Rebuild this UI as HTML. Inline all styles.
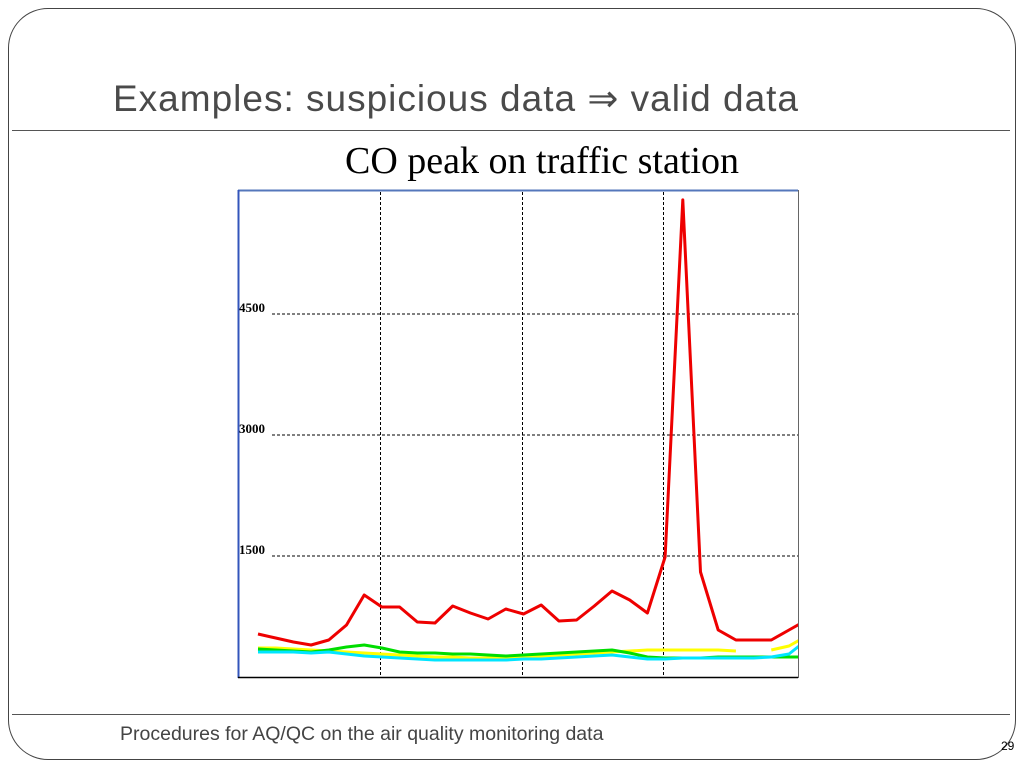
<!DOCTYPE html>
<html><head><meta charset="utf-8"><style>
body{margin:0;width:1024px;height:768px;background:#fff;overflow:hidden;position:relative;font-family:"Liberation Sans",sans-serif}
.abs{position:absolute}
</style></head><body>
<div class="abs" style="left:8px;top:8px;width:1006px;height:750px;border:1px solid #444;border-radius:40px"></div>
<div class="abs" style="left:113px;top:77px;font-size:37px;color:#4a4a4a;letter-spacing:1px;white-space:nowrap">Examples: suspicious data ⇒ valid data</div>
<div class="abs" style="left:12px;top:130px;width:998px;height:1px;background:#555"></div>
<div class="abs" style="left:0;width:1084px;text-align:center;top:139px;font-family:'Liberation Serif',serif;font-size:38px;color:#000;white-space:nowrap">CO peak on traffic station</div>
<div class="abs" style="left:12px;top:714px;width:998px;height:1px;background:#555"></div>
<div class="abs" style="left:120px;top:723px;font-size:19.5px;color:#444;white-space:nowrap">Procedures for AQ/QC on the air quality monitoring data</div>
<div class="abs" style="left:1001px;top:739px;font-size:12px;color:#000">29</div>
<svg class="abs" style="left:0;top:0" width="1024" height="768">
<defs><clipPath id="pc"><rect x="238" y="190" width="560" height="488"/></clipPath></defs>
<g id="grid"></g>
<g id="series" clip-path="url(#pc)"></g>
<line x1="238" y1="190.5" x2="798" y2="190.5" stroke="#5577bb" stroke-width="2"/>
<line x1="238.5" y1="190" x2="238.5" y2="678" stroke="#3355bb" stroke-width="2"/>
<line x1="238" y1="677.5" x2="798" y2="677.5" stroke="#000" stroke-width="1.5"/>
<line x1="798.5" y1="190" x2="798.5" y2="678" stroke="#666" stroke-width="1"/>
</svg>
<script>
const yTicks=[1500,3000,4500];
const xGrid=[6.9,14.9,22.9];
const red=[533,484,434,397,459,645,1017,868,868,682,670,880,794,719,843,781,893,694,707,880,1066,955,794,1488,5915,1302,583,459,459,459,583,707];
const yellow=[360,360,347,335,322,310,298,285,273,260,248,248,236,236,236,248,260,273,285,298,310,322,335,335,335,335,335,322,null,335,384,508];
const green=[347,335,322,310,335,372,397,360,310,298,298,285,285,273,260,273,285,298,310,322,335,298,248,236,236,236,248,248,248,248,248,248];
const cyan=[310,310,310,298,310,285,260,248,236,223,211,211,211,211,211,223,223,236,248,260,273,248,223,223,236,236,236,236,236,248,285,459];
const NS='http://www.w3.org/2000/svg';
function X(i){return 258+17.7*i;}
function Y(v){return 677-v*121/1500;}
const grid=document.getElementById('grid');
yTicks.forEach(t=>{
  const l=document.createElementNS(NS,'line');
  l.setAttribute('x1',272);l.setAttribute('x2',798);l.setAttribute('y1',Y(t));l.setAttribute('y2',Y(t));
  l.setAttribute('stroke','#000');l.setAttribute('stroke-dasharray','3,2');
  
  
  grid.appendChild(l);
  const tx=document.createElementNS(NS,'text');
  tx.setAttribute('x',239);tx.setAttribute('y',Y(t)-2);
  tx.setAttribute('font-family','Liberation Serif, serif');tx.setAttribute('font-size','13');tx.setAttribute('font-weight','bold');
  tx.textContent=t;
  
  
  grid.appendChild(tx);
});
xGrid.forEach(i=>{
  const x=Math.round(X(i))+0.5;
  const l=document.createElementNS(NS,'line');
  l.setAttribute('x1',x);l.setAttribute('x2',x);l.setAttribute('y1',192);l.setAttribute('y2',677);
  l.setAttribute('stroke','#000');l.setAttribute('stroke-dasharray','3,2');
  
  
  grid.appendChild(l);
});
const sg=document.getElementById('series');
function draw(arr,color,name){
  let d='',pen=false;
  arr.forEach((v,i)=>{
    if(v===null){pen=false;return;}
    d+=(pen?'L':'M')+X(i).toFixed(1)+','+Y(v).toFixed(1)+' ';pen=true;
  });
  const p=document.createElementNS(NS,'path');
  p.setAttribute('d',d);p.setAttribute('fill','none');p.setAttribute('stroke',color);
  p.setAttribute('stroke-width','3');p.setAttribute('stroke-linejoin','round');
  
  
  sg.appendChild(p);
}
draw(yellow,'#ffff00','series-yellow');
draw(green,'#00dd00','series-green');
draw(cyan,'#00e5ff','series-cyan');
draw(red,'#ee0000','series-red-co');
</script>
</body></html>
